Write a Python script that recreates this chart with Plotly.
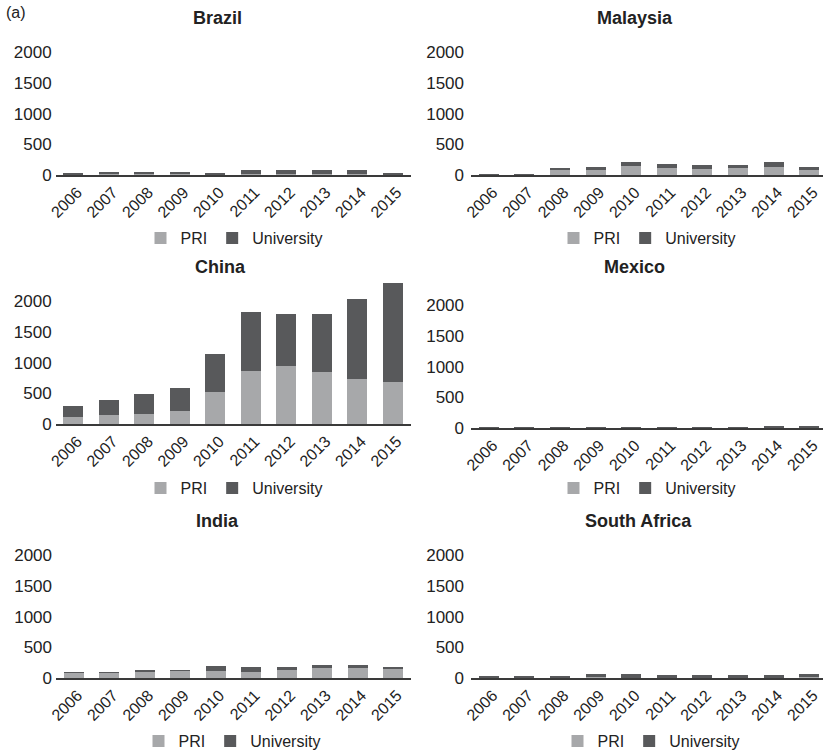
import plotly.graph_objects as go

years = ['2006', '2007', '2008', '2009', '2010', '2011', '2012', '2013', '2014', '2015']
y_ticks = [0, 500, 1000, 1500, 2000]

countries = ['Brazil', 'Malaysia', 'China', 'Mexico', 'India', 'South Africa']

brazil_pri = [8, 10, 10, 10, 10, 18, 18, 12, 12, 10]
brazil_univ = [17, 45, 45, 45, 25, 67, 67, 73, 73, 25]
malaysia_pri = [2, 2, 90, 75, 145, 118, 100, 118, 128, 88]
malaysia_univ = [8, 8, 18, 55, 60, 54, 56, 38, 77, 42]
china_pri = [110, 140, 170, 210, 520, 870, 950, 850, 740, 680]
china_univ = [190, 250, 320, 370, 630, 960, 840, 950, 1300, 1620]
mexico_pri = [1, 2, 2, 1, 1, 2, 1, 2, 3, 3]
mexico_univ = [2, 13, 13, 2, 2, 10, 2, 10, 22, 22]
india_pri = [85, 85, 100, 115, 108, 93, 124, 166, 166, 140]
india_univ = [8, 5, 20, 5, 92, 89, 58, 42, 42, 42]
safrica_pri = [8, 10, 8, 10, 8, 8, 8, 8, 8, 10]
safrica_univ = [30, 12, 25, 56, 63, 42, 42, 42, 42, 56]

pri_data = [brazil_pri, malaysia_pri, china_pri, mexico_pri, india_pri, safrica_pri]
univ_data = [brazil_univ, malaysia_univ, china_univ, mexico_univ, india_univ, safrica_univ]

W, H = 823, 751
PRI_COLOR = '#a7a8aa'
UNIV_COLOR = '#58595b'
FONT = 'Liberation Sans, Arial, sans-serif'

# panel geometry in pixels
baseline_px = [175, 175, 424, 428, 678, 678]
x_left_px = [55.6, 471, 55.6, 471, 56, 471]
x_right_px = [410.6, 827, 410.6, 827, 411, 827]
ylab_gap = [3, 6, 3, 6, 3, 6]
title_pos = [(218, 18), (635, 18), (220, 267), (634, 267), (217, 521), (638, 521)]
legend_pos = [(234, 238), (647, 238), (234, 488), (647, 488), (232, 741), (651, 741)]
YMAX = 2400
px_per_unit = 122.5 / 2000

fig = go.Figure()
layout = dict(
    template='none',
    width=W, height=H,
    margin=dict(l=0, r=0, t=0, b=0, pad=0, autoexpand=False),
    paper_bgcolor='white', plot_bgcolor='white',
    barmode='stack', bargap=0.44,
    font=dict(family=FONT, size=16, color='#222222'),
    showlegend=True,
)
annotations = []

for i, name in enumerate(countries):
    sfx = '' if i == 0 else str(i + 1)
    xa, ya = 'x' + sfx, 'y' + sfx
    lg = 'legend' + sfx
    fig.add_trace(go.Bar(x=years, y=pri_data[i], name='PRI', marker_color=PRI_COLOR,
                         marker_line_width=0, xaxis=xa, yaxis=ya, legend=lg))
    fig.add_trace(go.Bar(x=years, y=univ_data[i], name='University', marker_color=UNIV_COLOR,
                         marker_line_width=0, xaxis=xa, yaxis=ya, legend=lg))

    xl, xr = x_left_px[i], x_right_px[i]
    unit = (xr - xl) / 10.0
    if xr > W:
        x_range = [-0.5, -0.5 + (W - xl) / unit]
        xr = W
    else:
        x_range = [-0.5, 9.5]
    base = baseline_px[i]
    top = base - YMAX * px_per_unit
    layout['xaxis' + sfx] = dict(
        domain=[xl / W, xr / W], anchor=ya, range=x_range, type='category',
        showline=True, linecolor='#3a3a3a', linewidth=1.5, showgrid=False,
        ticks='', tickangle=-45, ticklabelshift=4,
        tickfont=dict(size=16, family=FONT, color='#222222'),
        zeroline=False, automargin=False,
    )
    layout['yaxis' + sfx] = dict(
        domain=[1 - base / H, 1 - top / H], anchor=xa, range=[0, YMAX],
        tickvals=y_ticks, ticktext=[str(v) for v in y_ticks],
        showline=False, showgrid=False, zeroline=False, ticks='',
        ticklabelstandoff=ylab_gap[i],
        tickfont=dict(size=17, family=FONT, color='#222222'), automargin=False,
    )
    lx, ly = legend_pos[i]
    layout[lg] = dict(
        orientation='h', x=lx / W, y=1 - ly / H, xanchor='center', yanchor='middle',
        font=dict(size=16, family=FONT, color='#222222'), bgcolor='rgba(0,0,0,0)',
        traceorder='normal', itemclick=False, itemdoubleclick=False,
    )
    tx, ty = title_pos[i]
    annotations.append(dict(
        text='<b>' + name + '</b>', x=tx / W, y=1 - ty / H, xref='paper', yref='paper',
        xanchor='center', yanchor='middle', showarrow=False,
        font=dict(size=18, family=FONT, color='#222222'),
    ))

annotations.append(dict(text='(a)', x=4 / W, y=1 - 13 / H, xref='paper', yref='paper',
                        xanchor='left', yanchor='middle', showarrow=False,
                        font=dict(size=16, family=FONT, color='#222222')))
layout['annotations'] = annotations
fig.update_layout(**layout)
fig.write_html('out.html', config={'displayModeBar': False},
               post_script="document.body.style.margin='0';document.body.style.overflow='hidden';")
